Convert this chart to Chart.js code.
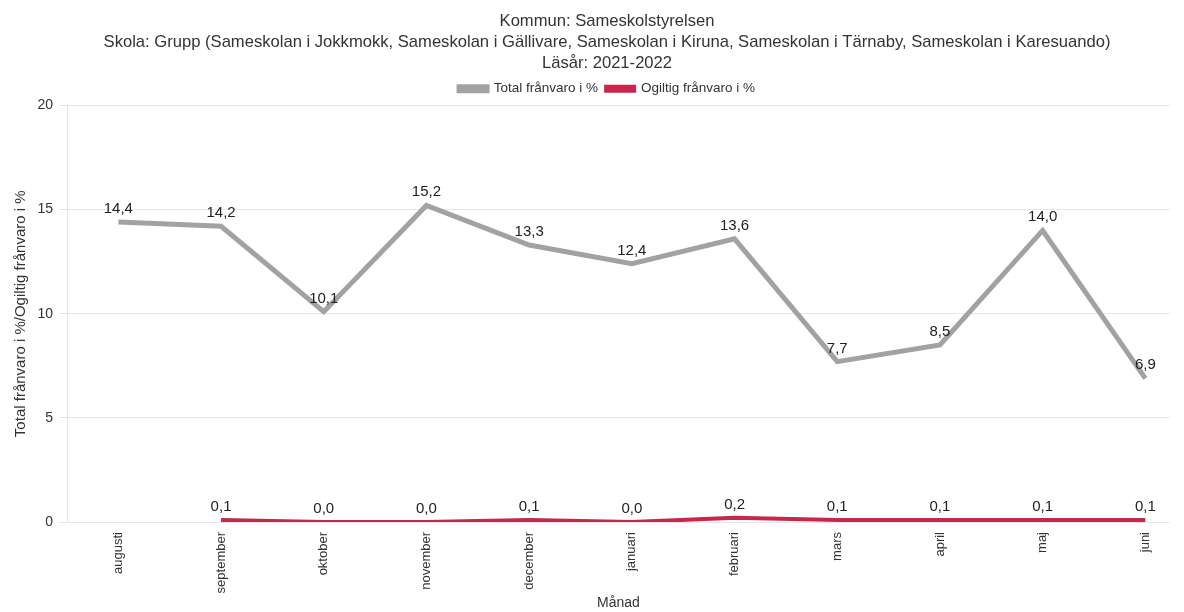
<!DOCTYPE html>
<html>
<head>
<meta charset="utf-8">
<script src="https://cdn.jsdelivr.net/npm/chart.js@4"></script>
<style>
html,body{margin:0;padding:0;background:#fff;}
#wrap{width:1184px;height:612px;}
</style>
</head>
<body>
<div id="wrap"><canvas id="c" width="1184" height="612"></canvas></div>
<script>
const months = ["augusti","september","oktober","november","december","januari","februari","mars","april","maj","juni"];
const totalFranvaro = [14.4,14.2,10.1,15.2,13.3,12.4,13.6,7.7,8.5,14.0,6.9];
const ogiltigFranvaro = [null,0.1,0.0,0.0,0.1,0.0,0.2,0.1,0.1,0.1,0.1];
const yTicks = [0,5,10,15,20];
const titleLines = ["Kommun: Sameskolstyrelsen","Skola: Grupp (Sameskolan i Jokkmokk, Sameskolan i Gällivare, Sameskolan i Kiruna, Sameskolan i Tärnaby, Sameskolan i Karesuando)","Läsår: 2021-2022"];
const seriesNames = ["Total frånvaro i %","Ogiltig frånvaro i %"];
const yTitle = "Total frånvaro i %/Ogiltig frånvaro i %";
const xTitle = "Månad";

const FONT = "'Liberation Sans', Arial, sans-serif";
const toPts = arr => arr.map((v,i)=>({x:i,y:v}));

const labelPlugin = {
  id:'dataLabels',
  afterLayout(chart){
    const shift = 16;
    if (chart.titleBlock){ chart.titleBlock.left += shift; chart.titleBlock.right += shift; }
    if (chart.legend){ chart.legend.left += shift; chart.legend.right += shift; }
  },
  afterDatasetsDraw(chart){
    const ctx = chart.ctx;
    ctx.save();
    ctx.font = "15px " + FONT;
    ctx.fillStyle = "#222";
    ctx.textAlign = "center";
    ctx.textBaseline = "alphabetic";
    chart.data.datasets.forEach((ds,di)=>{
      const meta = chart.getDatasetMeta(di);
      meta.data.forEach((pt,i)=>{
        const v = ds.data[i].y;
        if(v===null||v===undefined) return;
        ctx.fillText(v.toFixed(1).replace('.',','), pt.x, pt.y-9);
      });
    });
    ctx.restore();
  }
};

new Chart(document.getElementById('c'),{
  type:'line',
  data:{
    datasets:[
      {label:seriesNames[0],data:toPts(totalFranvaro),borderColor:'#a2a2a2',backgroundColor:'#a2a2a2',borderWidth:5,pointRadius:0,tension:0},
      {label:seriesNames[1],data:toPts(ogiltigFranvaro),borderColor:'#c5284c',backgroundColor:'#c5284c',borderWidth:4,pointRadius:0,tension:0,spanGaps:false}
    ]
  },
  options:{
    responsive:false,
    animation:false,
    layout:{padding:{left:12,right:14,top:0,bottom:0}},
    plugins:{
      tooltip:{enabled:false},
      title:{display:true,text:titleLines,color:'#333',font:{family:FONT,size:16.6,weight:'normal',lineHeight:'21px'},padding:{top:11,bottom:0}},
      legend:{display:true,labels:{color:'#333',font:{family:FONT,size:13.5,weight:'normal'},boxWidth:28,boxHeight:4,padding:8}}
    },
    scales:{
      x:{
        type:'linear',min:-0.5,max:10.24,
        afterBuildTicks(scale){ scale.ticks = months.map((m,i)=>({value:i})); },
        afterFit(scale){ scale.height = 90; },
        ticks:{autoSkip:false,maxRotation:90,minRotation:90,color:'#333',font:{family:FONT,size:13},padding:2,
          callback:(v)=>months[v]},
        grid:{display:false},
        border:{display:false},
        title:{display:true,text:xTitle,color:'#333',font:{family:FONT,size:14},padding:{top:0,bottom:0}}
      },
      y:{
        min:0,max:20,
        afterBuildTicks(scale){ scale.ticks = yTicks.map(v=>({value:v})); },
        afterFit(scale){ scale.width = 55; },
        ticks:{color:'#333',font:{family:FONT,size:14},padding:6},
        grid:{color:'#e6e6e6',tickLength:8,tickColor:'#e6e6e6'},
        border:{display:true,color:'#e6e6e6'},
        title:{display:true,text:yTitle,color:'#333',font:{family:FONT,size:15},padding:{top:0,bottom:4}}
      }
    }
  },
  plugins:[labelPlugin]
});
</script>
</body>
</html>
